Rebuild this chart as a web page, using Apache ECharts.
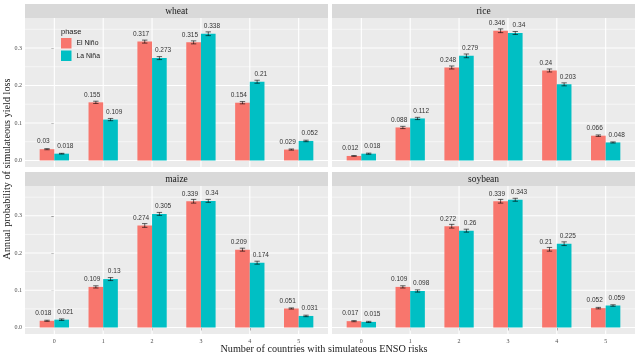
<!DOCTYPE html>
<html>
<head>
<meta charset="utf-8">
<script src="https://cdn.jsdelivr.net/npm/echarts@6/dist/echarts.min.js"></script>
<style>html,body{margin:0;padding:0;background:#fff}#c{width:640px;height:359px}</style>
</head>
<body>
<div id="c"></div>
<script>
// ---- data ----
const categories = ['0', '1', '2', '3', '4', '5'];
const crops = ['wheat', 'rice', 'maize', 'soybean'];
const phases = ['El Niño', 'La Niña'];

const wheatElNino = [0.03, 0.155, 0.317, 0.315, 0.154, 0.029];
const wheatLaNina = [0.018, 0.109, 0.273, 0.338, 0.21, 0.052];
const riceElNino = [0.012, 0.088, 0.248, 0.346, 0.24, 0.066];
const riceLaNina = [0.018, 0.112, 0.279, 0.34, 0.203, 0.048];
const maizeElNino = [0.018, 0.109, 0.274, 0.339, 0.209, 0.051];
const maizeLaNina = [0.021, 0.13, 0.305, 0.34, 0.174, 0.031];
const soybeanElNino = [0.017, 0.109, 0.272, 0.339, 0.21, 0.052];
const soybeanLaNina = [0.015, 0.098, 0.26, 0.343, 0.225, 0.059];

// error bar half-widths (estimated)
const wheatElNinoErr = [0.0015, 0.003, 0.004, 0.004, 0.003, 0.0015];
const wheatLaNinaErr = [0.001, 0.003, 0.004, 0.005, 0.004, 0.002];
const riceElNinoErr = [0.001, 0.003, 0.004, 0.005, 0.004, 0.002];
const riceLaNinaErr = [0.0015, 0.003, 0.005, 0.004, 0.004, 0.0015];
const maizeElNinoErr = [0.0015, 0.003, 0.005, 0.005, 0.004, 0.0015];
const maizeLaNinaErr = [0.002, 0.004, 0.004, 0.004, 0.004, 0.002];
const soybeanElNinoErr = [0.0015, 0.003, 0.005, 0.005, 0.005, 0.002];
const soybeanLaNinaErr = [0.0015, 0.003, 0.004, 0.004, 0.005, 0.002];

const yTicks = [0, 0.1, 0.2, 0.3];
const yMinor = [0.05, 0.15, 0.25, 0.35];
const yTickLabels = ['0.0', '0.1', '0.2', '0.3'];

const xTitle = 'Number of countries with simulateous ENSO risks';
const yTitle = 'Annual probability of simulateous yield loss';
const legendTitle = 'phase';

const seriesData = {
  wheat: [wheatElNino, wheatLaNina, wheatElNinoErr, wheatLaNinaErr],
  rice: [riceElNino, riceLaNina, riceElNinoErr, riceLaNinaErr],
  maize: [maizeElNino, maizeLaNina, maizeElNinoErr, maizeLaNinaErr],
  soybean: [soybeanElNino, soybeanLaNina, soybeanElNinoErr, soybeanLaNinaErr]
};

// ---- layout / style ----
const colors = ['#F8766D', '#00BFC4'];
const panels = [
  {left: 25, top: 18, width: 303, height: 149, stripTop: 4, leftCol: true, bottomRow: false},
  {left: 332, top: 18, width: 303, height: 149, stripTop: 4, leftCol: false, bottomRow: false},
  {left: 25, top: 186, width: 303, height: 148, stripTop: 172, leftCol: true, bottomRow: true},
  {left: 332, top: 186, width: 303, height: 148, stripTop: 172, leftCol: false, bottomRow: true}
];
const XMIN = -0.6, XMAX = 5.6, YMIN = -0.0175, YMAX = 0.380;
const serif = 'Liberation Serif';
const sans = 'Liberation Sans';

const grids = [], xAxes = [], yAxes = [], series = [], graphics = [];

panels.forEach((p, i) => {
  grids.push({left: p.left, top: p.top, width: p.width, height: p.height,
    show: true, backgroundColor: '#EBEBEB', borderWidth: 0, containLabel: false});
  xAxes.push({gridIndex: i, type: 'value', min: XMIN, max: XMAX,
    axisLine: {show: false}, splitLine: {show: false},
    axisTick: {show: p.bottomRow, customValues: categories.map((c, k) => k), length: 3,
      lineStyle: {color: '#333', width: 0.6}},
    axisLabel: {show: p.bottomRow, customValues: categories.map((c, k) => k),
      formatter: v => categories[Math.round(v)], fontSize: 6, fontFamily: serif,
      color: '#4D4D4D', margin: 4}
  });
  yAxes.push({gridIndex: i, type: 'value', min: YMIN, max: YMAX,
    axisLine: {show: false}, splitLine: {show: false},
    axisTick: {show: p.leftCol, customValues: yTicks, length: 3,
      lineStyle: {color: '#333', width: 0.6}},
    axisLabel: {show: p.leftCol, customValues: yTicks,
      formatter: v => yTickLabels[yTicks.findIndex(t => Math.abs(t - v) < 1e-9)] || '',
      fontSize: 6, fontFamily: serif, color: '#4D4D4D', margin: 3}
  });

  // gridlines
  series.push({type: 'custom', xAxisIndex: i, yAxisIndex: i, silent: true, z: 1,
    data: [[0]],
    renderItem: function (params, api) {
      const ch = [];
      yMinor.forEach(v => {
        const a = api.coord([XMIN, v]), b = api.coord([XMAX, v]);
        ch.push({type: 'line', shape: {x1: a[0], y1: a[1], x2: b[0], y2: b[1]},
          style: {stroke: '#FFFFFF', lineWidth: 0.55}});
      });
      yTicks.forEach(v => {
        const a = api.coord([XMIN, v]), b = api.coord([XMAX, v]);
        ch.push({type: 'line', shape: {x1: a[0], y1: a[1], x2: b[0], y2: b[1]},
          style: {stroke: '#FFFFFF', lineWidth: 1.1}});
      });
      categories.forEach((c, k) => {
        const a = api.coord([k, YMIN]), b = api.coord([k, YMAX]);
        ch.push({type: 'line', shape: {x1: a[0], y1: a[1], x2: b[0], y2: b[1]},
          style: {stroke: '#FFFFFF', lineWidth: 1.1}});
      });
      return {type: 'group', children: ch};
    }
  });

  const d = seriesData[crops[i]];
  [0, 1].forEach(ph => {
    const vals = d[ph], errs = d[ph + 2];
    const off = ph === 0 ? -0.15 : 0.15;
    const labOff = ph === 0 ? -0.225 : 0.225;
    series.push({type: 'custom', name: phases[ph], xAxisIndex: i, yAxisIndex: i, z: 3,
      itemStyle: {color: colors[ph]},
      data: vals.map((v, k) => [k, v, errs[k]]),
      renderItem: function (params, api) {
        const x = api.value(0), v = api.value(1), e = api.value(2);
        const tl = api.coord([x + off - 0.15, v]);
        const br = api.coord([x + off + 0.15, 0]);
        const hi = api.coord([x + off, v + e]);
        const lo = api.coord([x + off, v - e]);
        const cl = api.coord([x + off - 0.055, 0])[0];
        const cr = api.coord([x + off + 0.055, 0])[0];
        const lab = api.coord([x + labOff, v]);
        return {type: 'group', children: [
          {type: 'rect', shape: {x: tl[0], y: tl[1], width: br[0] - tl[0], height: br[1] - tl[1]},
            style: {fill: colors[ph]}},
          {type: 'line', shape: {x1: hi[0], y1: hi[1], x2: lo[0], y2: lo[1]},
            style: {stroke: '#000', lineWidth: 0.6}},
          {type: 'line', shape: {x1: cl, y1: hi[1], x2: cr, y2: hi[1]},
            style: {stroke: '#000', lineWidth: 0.6}},
          {type: 'line', shape: {x1: cl, y1: lo[1], x2: cr, y2: lo[1]},
            style: {stroke: '#000', lineWidth: 0.6}},
          {type: 'text', x: lab[0], y: lab[1] - 4,
            style: {text: String(v), align: 'center', verticalAlign: 'bottom',
              font: '6.5px ' + sans, fill: '#333333'}}
        ]};
      }
    });
  });

  // strip
  graphics.push({type: 'rect', shape: {x: p.left, y: p.stripTop, width: p.width, height: p.top - p.stripTop},
    style: {fill: '#D9D9D9'}, silent: true});
  graphics.push({type: 'text', x: p.left + p.width / 2, y: (p.stripTop + p.top) / 2,
    style: {text: crops[i], align: 'center', verticalAlign: 'middle',
      font: '9.5px ' + serif, fill: '#1A1A1A'}});
});

graphics.push({type: 'text', x: 324, y: 349.5,
  style: {text: xTitle, align: 'center', verticalAlign: 'middle', font: '10.2px ' + serif, fill: '#1A1A1A'}});
graphics.push({type: 'text', x: 7, y: 169, rotation: Math.PI / 2,
  style: {text: yTitle, align: 'center', verticalAlign: 'middle', font: '10.2px ' + serif, fill: '#1A1A1A'}});
graphics.push({type: 'text', x: 61, y: 31.5,
  style: {text: legendTitle, align: 'left', verticalAlign: 'middle', font: '7.5px ' + sans, fill: '#1A1A1A'}});

const chart = echarts.init(document.getElementById('c'), null, {renderer: 'canvas'});
chart.setOption({
  animation: false,
  backgroundColor: '#FFFFFF',
  grid: grids,
  xAxis: xAxes,
  yAxis: yAxes,
  legend: {data: phases, orient: 'vertical', left: 61, top: 38, itemWidth: 10.5, itemHeight: 10.5,
    itemGap: 2, icon: 'rect', selectedMode: false, padding: 0,
    textStyle: {fontSize: 6.8, fontFamily: sans, color: '#1A1A1A'}},
  graphic: graphics,
  series: series
});
</script>
</body>
</html>
